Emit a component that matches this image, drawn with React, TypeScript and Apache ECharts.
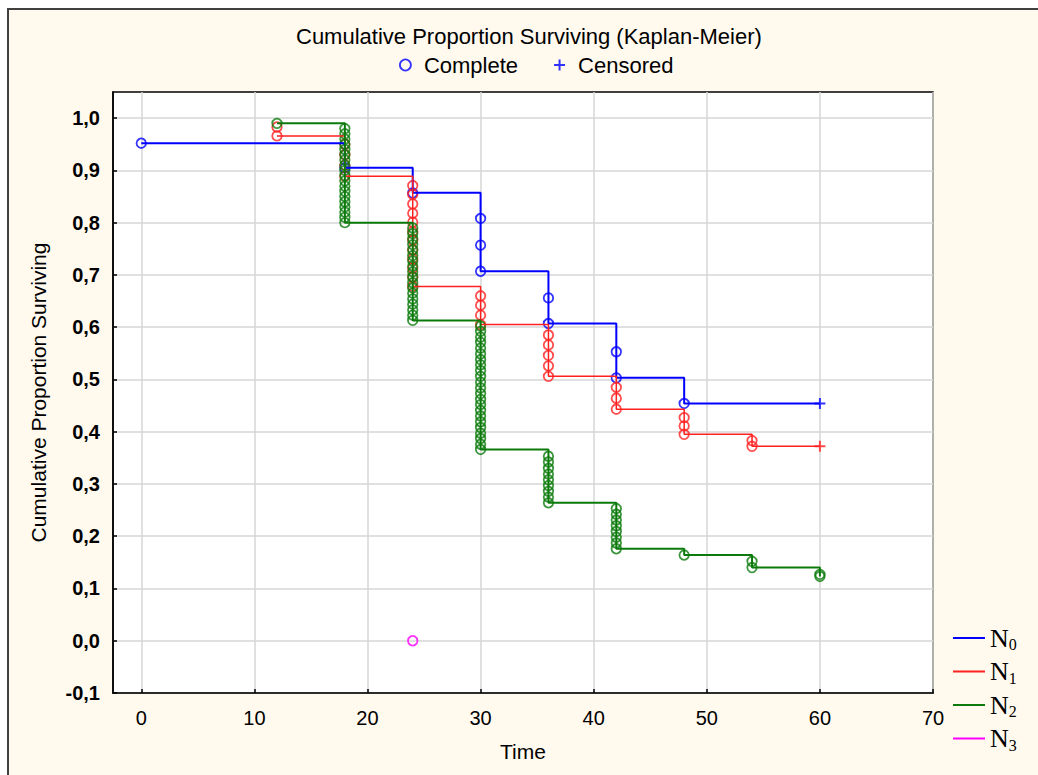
import React, { useEffect, useRef } from "react";
import * as echarts from "echarts";

// ---- axis ticks ----
const xTickValues = [0, 10, 20, 30, 40, 50, 60, 70];
const yTickValues = [-0.1, 0, 0.1, 0.2, 0.3, 0.4, 0.5, 0.6, 0.7, 0.8, 0.9, 1.0];

// ---- groups ----
const groupNames = ["N0", "N1", "N2", "N3"];
const groupColors = ["#0000ff", "#ff2020", "#0b7a0b", "#ff00ff"];
const groupLineWidths = [2, 1.5, 2, 1.5];

// ---- Kaplan-Meier step curves [time, proportion] ----
const n0Steps = [[0, 0.952], [18, 0.905], [24, 0.857], [30, 0.707], [36, 0.607], [42, 0.503], [48, 0.454], [60, 0.454]];
const n1Steps = [[12, 0.966], [18, 0.889], [24, 0.678], [30, 0.605], [36, 0.506], [42, 0.443], [48, 0.395], [54, 0.372], [60, 0.372]];
const n2Steps = [[12, 0.99], [18, 0.8], [24, 0.613], [30, 0.366], [36, 0.264], [42, 0.176], [48, 0.164], [54, 0.14], [60, 0.123]];
const n3Steps = [[24, 0.0]];

// ---- complete observations: [time, proportions at that time] ----
const n0Complete: [number, number[]][] = [
  [0, [0.952]], [18, [0.905]], [24, [0.857]], [30, [0.808, 0.757, 0.707]],
  [36, [0.656, 0.607]], [42, [0.553, 0.503]], [48, [0.454]],
];
const n1Complete: [number, number[]][] = [
  [12, [0.983, 0.966]],
  [18, [0.95, 0.93, 0.91, 0.889]],
  [24, [0.871, 0.854, 0.836, 0.818, 0.801, 0.783, 0.766, 0.748, 0.731, 0.713, 0.696, 0.678]],
  [30, [0.66, 0.642, 0.623, 0.605]],
  [36, [0.585, 0.566, 0.546, 0.526, 0.506]],
  [42, [0.485, 0.464, 0.443]],
  [48, [0.427, 0.411, 0.395]],
  [54, [0.383, 0.372]],
];
const n2Complete: [number, number[]][] = [
  [12, [0.99]],
  [18, [0.98, 0.97, 0.96, 0.95, 0.94, 0.93, 0.92, 0.91, 0.9, 0.89, 0.88, 0.87, 0.86, 0.85, 0.84, 0.83, 0.82, 0.81, 0.8]],
  [24, [0.79, 0.779, 0.769, 0.758, 0.748, 0.737, 0.727, 0.717, 0.706, 0.696, 0.685, 0.675, 0.665, 0.654, 0.644, 0.633, 0.623, 0.613]],
  [30, [0.602, 0.592, 0.581, 0.571, 0.56, 0.549, 0.538, 0.528, 0.517, 0.506, 0.495, 0.484, 0.473, 0.462, 0.452, 0.441, 0.43, 0.419, 0.408, 0.397, 0.387, 0.376, 0.366]],
  [36, [0.353, 0.342, 0.33, 0.319, 0.308, 0.297, 0.286, 0.275, 0.264]],
  [42, [0.253, 0.242, 0.231, 0.22, 0.209, 0.198, 0.187, 0.176]],
  [48, [0.164]],
  [54, [0.152, 0.14]],
  [60, [0.127, 0.123]],
];
const n3Complete: [number, number[]][] = [[24, [0.0]]];

// ---- censored observations ----
const n0Censored = [[60, 0.454]];
const n1Censored = [[60, 0.372]];
const n2Censored: number[][] = [];
const n3Censored: number[][] = [];

const stepsByGroup = [n0Steps, n1Steps, n2Steps, n3Steps];
const completeByGroup = [n0Complete, n1Complete, n2Complete, n3Complete];
const censoredByGroup = [n0Censored, n1Censored, n2Censored, n3Censored];

const PLUS = "path://M0,4.5 L11,4.5 L11,6.5 L0,6.5 Z M4.5,0 L6.5,0 L6.5,11 L4.5,11 Z";
const SANS = "'Liberation Sans', Arial, sans-serif";
const SERIF = "'Liberation Serif', 'Times New Roman', serif";

export default function App() {
  const ref = useRef<HTMLDivElement>(null);

  useEffect(() => {
    if (!ref.current) return;
    const chart = echarts.init(ref.current, null, { renderer: "svg" });

    const series: any[] = [];
    groupNames.forEach((g, i) => {
      const color = groupColors[i];
      series.push({
        name: g,
        type: "line",
        step: "end",
        symbol: "none",
        data: stepsByGroup[i],
        lineStyle: { color, width: groupLineWidths[i] },
        itemStyle: { color },
        silent: true,
      });
      const pts: number[][] = [];
      completeByGroup[i].forEach(([t, vals]) => vals.forEach((v) => pts.push([t, v])));
      series.push({
        name: "Complete",
        type: "scatter",
        symbol: "circle",
        symbolSize: 9.5,
        data: pts,
        itemStyle: { color: "rgba(255,255,255,0)", borderColor: color, borderWidth: 1.8 },
        silent: true,
      });
      if (censoredByGroup[i].length) {
        series.push({
          name: "Censored",
          type: "scatter",
          symbol: PLUS,
          symbolSize: 11,
          data: censoredByGroup[i],
          itemStyle: { color },
          silent: true,
        });
      }
    });

    chart.setOption({
      animation: false,
      backgroundColor: "transparent",
      title: {
        text: "Cumulative Proportion Surviving (Kaplan-Meier)",
        left: 296,
        top: 25,
        padding: 0,
        textStyle: { fontFamily: SANS, fontSize: 22, fontWeight: "normal", color: "#000" },
      },
      legend: [
        {
          top: 54,
          left: 399,
          padding: 0,
          itemGap: 36,
          itemWidth: 11,
          itemHeight: 11,
          selectedMode: false,
          textStyle: { fontFamily: SANS, fontSize: 22, color: "#000", padding: [0, 0, 0, 8] },
          data: [
            { name: "Complete", icon: "circle", itemStyle: { color: "rgba(255,255,255,0)", borderColor: "#0000ff", borderWidth: 1.8 } },
            { name: "Censored", icon: PLUS, itemStyle: { color: "#0000ff" } },
          ],
        },
        {
          orient: "vertical",
          left: 953,
          top: 625,
          padding: 0,
          itemGap: 6,
          itemWidth: 32,
          itemHeight: 2,
          selectedMode: false,
          formatter: (name: string) => `{n|N}{s|${name.slice(1)}}`,
          textStyle: {
            rich: {
              n: { fontFamily: SERIF, fontSize: 26, color: "#000", lineHeight: 30 },
              s: { fontFamily: SERIF, fontSize: 16, color: "#000", padding: [13, 0, 0, 0] },
            },
          },
          data: groupNames.map((g, i) => ({ name: g, icon: "rect", itemStyle: { color: groupColors[i] } })),
        },
      ],
      grid: {
        left: 113,
        top: 92,
        width: 820,
        height: 601,
        show: true,
        backgroundColor: "#ffffff",
        borderColor: "#000",
        borderWidth: 1.5,
        containLabel: false,
      },
      xAxis: {
        type: "value",
        min: -2.5,
        max: 70,
        name: "Time",
        nameLocation: "middle",
        nameGap: 48,
        nameTextStyle: { fontFamily: SANS, fontSize: 21, color: "#000" },
        axisLine: { show: true, onZero: false, lineStyle: { color: "#000", width: 1.5 } },
        axisTick: { show: true, inside: true, length: 4, customValues: xTickValues, lineStyle: { color: "#000", width: 1.5 } },
        axisLabel: { customValues: xTickValues, fontFamily: SANS, fontSize: 20, color: "#000", margin: 15 },
        splitLine: { show: true, lineStyle: { color: "#d6d6d6", width: 1.5 } },
      },
      yAxis: {
        type: "value",
        min: -0.1,
        max: 1.05,
        name: "Cumulative Proportion Surviving",
        nameLocation: "middle",
        nameGap: 64,
        nameTextStyle: { fontFamily: SANS, fontSize: 21, color: "#000" },
        axisLine: { show: true, onZero: false, lineStyle: { color: "#000", width: 1.5 } },
        axisTick: { show: true, inside: true, length: 4, customValues: yTickValues, lineStyle: { color: "#000", width: 1.5 } },
        axisLabel: {
          customValues: yTickValues,
          fontFamily: SANS,
          fontSize: 20,
          fontWeight: "bold",
          color: "#000",
          margin: 13,
          formatter: (v: number) => v.toFixed(1).replace(".", ","),
        },
        splitLine: { show: true, lineStyle: { color: "#d6d6d6", width: 1.5 } },
      },
      series,
    });

    return () => chart.dispose();
  }, []);

  return (
    <>
      <div
        style={{
          position: "fixed",
          left: 7,
          top: 8,
          width: 1031,
          height: 767,
          boxSizing: "border-box",
          borderLeft: "2px solid #404040",
          borderTop: "2px solid #404040",
          background: "#fff9ee",
        }}
      />
      <div ref={ref} style={{ position: "fixed", left: 0, top: 0, width: 1038, height: 775 }} />
    </>
  );
}
